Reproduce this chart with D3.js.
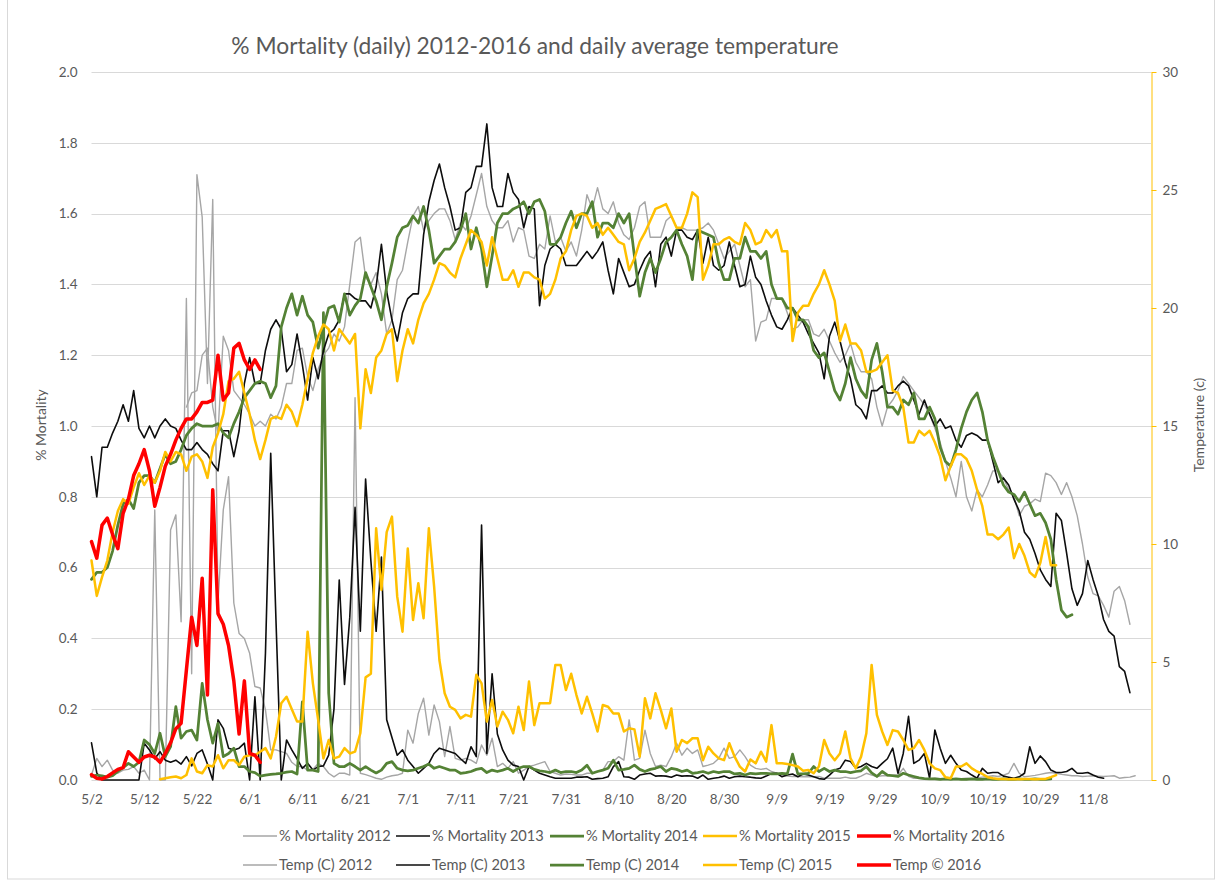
<!DOCTYPE html>
<html>
<head>
<meta charset="utf-8">
<script src="https://cdnjs.cloudflare.com/ajax/libs/d3/7.8.5/d3.min.js"></script>
<style>
    body { margin: 0; background: #fff; }
    svg text { font-family: Lato, "Open Sans", sans-serif; fill: #595959; }
</style>
</head>
<body>
<div id="chart"></div>
<script>
/*global d3*/

//x axis: day offsets from 5/2 and their labels
var dayTicks = [0, 10, 20, 30, 40, 50, 60, 70, 80, 90, 100, 110, 120, 130, 140, 150, 160, 170, 180, 190];
var dayTickLabels = ["5/2", "5/12", "5/22", "6/1", "6/11", "6/21", "7/1", "7/11", "7/21", "7/31",
    "8/10", "8/20", "8/30", "9/9", "9/19", "9/29", "10/9", "10/19", "10/29", "11/8"];
var mortTicks = [0, 0.2, 0.4, 0.6, 0.8, 1.0, 1.2, 1.4, 1.6, 1.8, 2.0];
var tempTicks = [0, 5, 10, 15, 20, 25, 30];

//daily % mortality, first value is 5/2 unless a start day is given
var mort2012 = [0.014,0.061,0.038,0.056,0.028,0.019,0.028,0.03,0.038,0.019,
    0.028,0.0,0.763,0.0,0.0,0.706,0.749,0.447,1.36,0.3,
    1.71,1.59,1.12,1.64,0.5,0.763,0.857,0.5,0.414,0.40,
    0.358,0.264,0.26,0.198,0.085,0.085,0.08,0.075,0.05,0.038,
    0.038,0.028,0.03,0.047,0.038,0.019,0.009,0.019,0.019,0.014,
    1.08,0.019,0.015,0.01,0.005,0.002,0.008,0.012,0.014,0.019,
    0.141,0.104,0.188,0.231,0.127,0.212,0.165,0.066,0.151,0.061,
    0.056,0.061,0.056,0.047,0.099,0.07,0.118,0.038,0.047,0.033,
    0.052,0.019,0.028,0.038,0.042,0.047,0.052,0.024,0.019,0.014,
    0.017,0.016,0.014,0.014,0.019,0.019,0.024,0.028,0.052,0.052,
    0.066,0.056,0.17,0.056,0.061,0.141,0.075,0.038,0.042,0.038,
    0.066,0.104,0.07,0.09,0.075,0.085,0.038,0.042,0.047,0.061,
    0.09,0.061,0.066,0.085,0.066,0.042,0.033,0.03,0.033,0.024,
    0.019,0.014,0.011,0.01,0.01,0.009,0.01,0.009,0.01,0.005,
    0.005,0.005,0.005,0.008,0.005,0.005,0.011,0.019,0.014,0.01,
    0.012,0.012,0.014,0.014,0.033,0.01,0.005,0.005,0.004,0.003,
    0.005,0.004,0.003,0.004,0.003,0.004,0.005,0.004,0.006,0.008,
    0.01,0.012,0.01,0.014,0.019,0.047,0.019,0.009,0.011,0.013,
    0.016,0.019,0.021,0.019,0.016,0.014,0.012,0.012,0.01,0.011,
    0.012,0.011,0.01,0.011,0.012,0.005,0.007,0.008,0.012];

var mort2013 = [0.105,0.02,0,0,0,0,0,0,0,0,
    0.104,0.085,0.06,0.08,0.056,0.05,0.056,0.045,0.066,0.04,
    0.075,0.085,0.045,0,0.17,0.146,0.09,0.085,0.09,0.104,
    0,0.235,0,0.358,0.923,0.45,0,0.113,0.085,0.06,
    0.033,0.047,0.028,0.038,0.04,0.07,0.2,0.565,0.27,0.46,
    0.77,0.42,0.85,0.62,0.42,0.63,0.17,0.12,0.07,0.085,
    0.056,0.038,0.019,0.033,0.047,0.075,0.09,0.085,0.08,0.075,
    0.06,0.047,0.094,0.066,0.72,0.075,0.30,0.13,0.085,0.056,
    0.042,0.038,0,0.038,0.028,0.019,0.014,0.009,0.005,0.005,
    0.005,0.005,0.008,0.008,0.009,0.002,0.004,0.005,0.009,0.038,
    0.052,0.009,0.008,0.002,0.014,0.017,0.019,0.011,0.012,0.011,
    0.008,0.014,0.011,0.012,0.011,0.005,0.014,0.002,0.005,0.007,
    0.011,0.005,0.009,0.011,0.009,0.008,0.006,0.005,0.011,0.018,
    0.019,0.009,0.014,0.017,0.009,0.017,0.014,0.009,0.004,0.002,
    0.014,0.028,0.033,0.056,0.052,0.033,0.038,0.047,0.038,0.033,
    0.047,0.06,0.09,0.019,0.075,0.18,0.047,0.056,0.075,0.005,
    0.141,0.09,0.047,0.07,0.047,0.028,0.024,0.014,0.005,0.033,
    0.019,0.021,0.021,0.011,0.008,0.005,0.009,0.019,0.094,0.047,
    0.068,0.052,0.028,0.021,0.021,0.024,0.033,0.019,0.019,0.021,
    0.014,0.008,0.005];

var mort2014 = [0.01,0.014,0.012,0.008,0.012,0.024,0.035,0.047,0.038,0.05,
    0.113,0.10,0.075,0.132,0.066,0.094,0.207,0.118,0.137,0.141,
    0.113,0.273,0.17,0.104,0.16,0.066,0.075,0.09,0.038,0.038,
    0.024,0.021,0.011,0.014,0.016,0.017,0.019,0.022,0.024,0.017,
    0.221,0.028,0.028,0.024,1.32,0.245,0.047,0.038,0.038,0.047,
    0.038,0.028,0.038,0.028,0.02,0.028,0.047,0.052,0.033,0.028,
    0.026,0.028,0.033,0.038,0.045,0.033,0.038,0.033,0.028,0.028,
    0.019,0.021,0.024,0.03,0.033,0.021,0.028,0.024,0.028,0.033,
    0.024,0.033,0.038,0.038,0.03,0.026,0.024,0.021,0.028,0.021,
    0.024,0.024,0.021,0.028,0.042,0.019,0.024,0.028,0.033,0.056,
    0.028,0.03,0.033,0.042,0.03,0.024,0.03,0.033,0.038,0.024,
    0.033,0.03,0.024,0.028,0.019,0.021,0.024,0.019,0.024,0.021,
    0.024,0.024,0.017,0.019,0.014,0.019,0.017,0.019,0.019,0.017,
    0.017,0.019,0.017,0.073,0.017,0.017,0.019,0.038,0.024,0.033,
    0.024,0.028,0.024,0.024,0.021,0.024,0.026,0.038,0.02,0.01,
    0.024,0.014,0.012,0.01,0.019,0.014,0.01,0.006,0.004,0.003,
    0.003,0.002,0.003,0.002,0.003,0.002,0.002,0.003,0.002,0.002,
    0.003,0.002,0.002,0.003,0.002,0.002,0.003,0.002,0.002,0.003,
    0.002,0.002,0.003];

//2015 mortality starts on 5/15
var mort2015Start = 13;
var mort2015 = [0.002,0.005,0.008,0.01,0.005,0.014,0.061,
    0.024,0.019,0.042,0.038,0.07,0.033,0.056,0.056,0.042,0.066,
    0.07,0.07,0.08,0.09,0.061,0.122,0.217,0.235,0.20,0.165,
    0.165,0.419,0.273,0.17,0.061,0.113,0.061,0.066,0.09,0.075,
    0.08,0.132,0.29,0.30,0.711,0.537,0.70,0.744,0.518,0.419,
    0.654,0.452,0.556,0.457,0.711,0.546,0.339,0.245,0.207,0.198,
    0.174,0.184,0.179,0.297,0.273,0.165,0.226,0.151,0.193,0.17,
    0.132,0.207,0.141,0.278,0.155,0.217,0.217,0.217,0.325,0.325,
    0.254,0.30,0.24,0.188,0.235,0.188,0.137,0.212,0.207,0.188,
    0.188,0.137,0.146,0.143,0.066,0.231,0.174,0.245,0.198,0.146,
    0.202,0.08,0.113,0.104,0.118,0.118,0.056,0.094,0.075,0.061,
    0.056,0.104,0.066,0.038,0.024,0.058,0.047,0.08,0.052,0.155,
    0.047,0.047,0.045,0.042,0.038,0.026,0.028,0.019,0.038,0.113,
    0.075,0.056,0.075,0.137,0.061,0.033,0.066,0.132,0.325,0.184,
    0.137,0.099,0.141,0.137,0.113,0.085,0.09,0.113,0.085,0.047,
    0.033,0.028,0.008,0.005,0.038,0.038,0.047,0.033,0.024,0.017,
    0.008,0.005,0.003,0.003,0.002,0.003,0.002,0.003,0.003,0.002,
    0.003,0.003,0.008,0.014];

var mort2016 = [0.015,0.005,0.003,0.01,0.02,0.03,0.035,0.08,0.065,0.05,
    0.065,0.07,0.065,0.05,0.075,0.105,0.145,0.16,0.31,0.46,
    0.38,0.57,0.24,0.82,0.47,0.44,0.38,0.28,0.13,0.28,
    0.075,0.07,0.05];

//daily average temperature (C)
//2012 temperature starts on 5/20
var temp2012Start = 18;
var temp2012 = [15.8,16.4,
    16.5,18.0,18.3,15.8,14.7,18.8,18.2,16.5,16.2,15.9,
    15.5,15.0,15.2,15.0,15.5,15.3,15.8,16.8,16.8,18.2,
    18.3,17.1,16.5,17.4,18.0,18.3,18.9,18.6,19.2,21.0,
    22.8,23.0,21.3,21.0,21.5,20.6,18.9,19.5,21.2,21.6,
    22.8,23.9,24.3,23.3,23.7,24.0,24.2,24.2,23.7,22.9,
    23.6,23.3,23.9,24.8,25.7,24.3,23.7,23.4,23.4,23.7,
    22.8,23.4,23.3,22.2,22.1,22.7,22.5,23.9,22.8,23.0,
    22.4,22.8,22.2,23.3,24.8,24.2,25.1,24.2,24.0,24.5,
    23.6,23.1,22.9,23.4,24.3,24.5,23.0,23.0,23.0,23.7,
    23.9,23.4,23.4,23.3,23.3,23.3,23.4,23.6,23.3,22.7,
    22.1,22.4,22.7,21.8,20.9,21.2,18.6,19.4,19.5,20.4,
    20.4,20.4,19.8,19.1,19.2,19.5,19.5,18.9,18.8,19.1,
    18.6,18.1,17.7,18.0,18.5,17.7,17.3,17.3,17.0,15.8,
    15.0,15.8,16.1,16.5,17.1,16.8,16.5,16.2,15.9,15.5,
    14.9,14.3,13.5,12.8,12.0,13.5,12.0,11.4,12.3,12.0,
    12.5,13.1,13.1,12.8,12.3,12.0,11.2,11.6,11.7,11.9,
    11.8,13.0,12.9,12.6,12.1,12.6,12.0,11.2,10.0,8.6,
    7.9,7.8,7.4,6.9,8.0,8.2,7.6,6.6];

var temp2013 = [13.7,12.0,14.1,14.1,14.7,15.2,15.9,15.2,16.5,14.9,
    14.5,15.0,14.5,15.0,15.3,15.0,14.9,14.4,14.0,14.0,
    14.3,14.0,13.8,13.4,13.1,14.8,14.8,13.7,14.8,16.8,
    17.9,16.8,16.8,18.2,19.1,19.5,19.1,17.3,17.6,18.9,
    17.6,16.1,17.9,17.0,18.2,18.9,19.1,19.5,20.6,20.6,
    20.4,20.3,20.3,20.0,20.9,22.7,20.7,19.5,18.6,19.8,
    20.4,20.6,20.6,23.1,24.5,25.4,26.1,25.1,24.3,23.3,
    23.4,24.9,25.1,26.0,26.0,27.8,25.1,24.3,24.3,25.7,
    24.9,24.6,23.4,24.3,24.2,20.1,21.8,22.5,22.7,22.5,
    21.8,21.8,21.8,22.1,22.4,22.1,22.4,22.8,21.6,20.6,
    22.1,21.5,20.9,21.0,21.6,22.1,22.4,20.9,22.7,23.0,
    22.2,23.3,23.3,23.0,22.9,23.3,21.9,23.0,21.8,21.6,
    21.8,22.8,21.8,20.9,21.0,22.2,21.3,21.0,20.3,19.7,
    19.2,19.1,19.5,20.0,19.7,19.4,18.9,18.5,18.1,17.0,
    18.8,19.4,18.6,17.7,17.0,15.9,15.7,15.3,16.5,16.5,
    16.7,16.4,16.4,16.7,16.9,16.7,16.1,15.5,16.1,15.5,
    15.0,15.3,14.9,15.0,14.4,14.1,14.6,14.7,14.6,14.4,
    14.4,13.5,12.6,12.8,12.5,11.9,11.4,10.5,10.2,9.6,
    8.9,8.5,8.2,11.3,11.0,9.6,8.1,7.4,7.9,9.3,
    8.5,7.8,6.8,6.3,6.1,4.8,4.6,3.7];

var temp2014 = [8.5,8.8,8.8,9.0,9.7,10.8,11.7,11.9,11.5,12.6,
    12.9,12.9,12.6,13.2,13.8,13.4,13.5,14.0,14.6,14.9,
    15.1,15.0,15.0,15.0,15.1,14.7,14.5,15.1,15.6,16.2,
    16.5,16.8,16.9,16.8,16.2,16.7,19.2,20.0,20.6,19.7,
    20.5,19.7,19.4,18.3,19.2,20.0,20.1,19.4,20.6,19.7,
    20.1,20.4,21.5,20.9,20.3,19.5,20.9,21.9,23.0,23.4,
    23.5,23.9,23.6,24.3,23.3,21.9,22.2,22.5,22.5,22.8,
    23.3,24.0,22.5,23.4,22.5,20.9,22.2,23.6,24.0,24.0,
    24.2,24.3,24.5,24.0,24.5,24.6,24.1,22.7,22.7,23.0,
    23.6,24.1,23.4,24.0,24.0,24.5,23.0,23.6,23.6,23.4,
    24.0,23.6,24.0,22.2,20.5,21.5,22.1,21.5,22.1,22.8,
    23.0,23.3,22.7,22.2,21.2,23.3,23.2,23.1,23.0,21.9,
    21.2,21.2,22.1,22.1,23.0,22.4,22.4,22.1,22.4,21.0,
    20.4,20.4,20.0,20.0,19.5,19.5,19.2,18.2,17.9,18.1,
    17.3,16.5,16.1,16.8,17.9,17.0,16.5,16.2,17.8,18.5,
    17.3,15.8,15.8,15.5,16.1,15.9,16.4,15.3,15.3,15.8,
    15.3,14.1,13.5,13.3,14.0,14.9,15.6,16.1,16.4,15.6,
    14.4,13.7,13.1,12.5,12.2,12.1,11.8,12.2,11.7,11.2,
    11.3,10.9,10.2,8.5,7.2,6.9,7.0];

var temp2015 = [9.3,7.8,8.6,9.3,10.5,11.4,11.9,11.7,12.4,13.0,
    12.5,12.9,12.6,13.1,13.9,13.5,13.9,13.8,13.1,13.7,
    13.8,13.5,12.8,14.1,14.7,15.5,16.9,17.0,17.3,16.4,
    15.5,14.4,13.6,14.4,15.3,15.4,15.3,15.9,15.6,15.0,
    15.9,17.0,18.1,18.8,19.3,19.1,18.2,19.1,18.8,18.5,
    18.9,14.9,17.4,16.4,17.9,18.2,18.9,19.1,16.9,18.2,
    19.1,18.5,19.5,20.2,20.6,21.2,21.9,21.8,21.5,21.3,
    22.1,22.7,23.3,23.1,22.8,21.8,23.0,22.1,21.2,21.2,
    21.6,20.9,21.5,21.5,21.3,21.2,20.4,20.6,21.2,22.1,
    22.4,23.3,23.9,24.0,23.9,23.4,23.6,23.1,23.4,23.1,
    22.8,22.7,21.6,22.1,22.8,23.2,23.7,24.2,24.3,24.4,
    23.9,23.4,23.4,24.0,24.9,24.7,21.2,21.8,22.7,22.7,
    22.9,23.0,22.8,22.7,23.6,23.3,22.7,22.8,23.3,23.0,
    23.3,22.4,22.4,18.6,19.8,20.1,20.1,20.6,21.0,21.6,
    21.0,20.3,18.6,19.3,18.5,18.5,18.2,17.3,17.3,17.4,
    17.7,18.0,16.5,16.4,15.8,14.3,14.3,14.8,14.6,14.8,
    14.3,13.7,12.7,13.3,13.8,13.8,13.6,13.1,12.3,11.6,
    10.4,10.4,10.2,10.4,10.7,9.4,10.0,9.5,8.8,8.6,
    9.2,10.3,9.1,9.1];

var temp2016 = [10.1,9.4,10.8,11.1,10.4,9.8,11.3,11.9,12.9,13.4,
    14.0,13.1,11.6,12.4,13.3,13.8,14.4,14.9,15.3,15.3,
    15.6,16.0,16.0,16.1,18.0,16.1,16.4,18.3,18.5,17.8,
    17.4,17.8,17.4];

//series styles, in Excel draw order (mortality first, temperature on the secondary axis)
var series = [
    {name: "% Mortality 2012", values: mort2012, start: 0, axis: "mort", color: "#a6a6a6", width: 1.4},
    {name: "% Mortality 2013", values: mort2013, start: 0, axis: "mort", color: "#0d0d0d", width: 1.6},
    {name: "% Mortality 2014", values: mort2014, start: 0, axis: "mort", color: "#548235", width: 2.75},
    {name: "% Mortality 2015", values: mort2015, start: mort2015Start, axis: "mort", color: "#ffc000", width: 2.5},
    {name: "% Mortality 2016", values: mort2016, start: 0, axis: "mort", color: "#ff0000", width: 3.5},
    {name: "Temp (C) 2012", values: temp2012, start: temp2012Start, axis: "temp", color: "#a6a6a6", width: 1.4},
    {name: "Temp (C) 2013", values: temp2013, start: 0, axis: "temp", color: "#0d0d0d", width: 1.6},
    {name: "Temp (C) 2014", values: temp2014, start: 0, axis: "temp", color: "#548235", width: 2.75},
    {name: "Temp (C) 2015", values: temp2015, start: 0, axis: "temp", color: "#ffc000", width: 2.5},
    {name: "Temp \u00a9 2016", values: temp2016, start: 0, axis: "temp", color: "#ff0000", width: 3.5}
];

//plot area inside the SVG
var plot = {left: 91.5, right: 1151, top: 72, bottom: 780};

var svg = d3.select("#chart")
    .append("svg")
        .attr("width", 1221)
        .attr("height", 881);

//chart border
svg.append("rect")
    .attr("x", 7.5)
    .attr("y", -1)
    .attr("width", 1207)
    .attr("height", 880)
    .attr("fill", "none")
    .attr("stroke", "#d9d9d9");

//scales
var x = d3.scaleLinear().domain([0, 201]).range([plot.left, plot.right]);
var yMort = d3.scaleLinear().domain([0, 2]).range([plot.bottom, plot.top]);
var yTemp = d3.scaleLinear().domain([0, 30]).range([plot.bottom, plot.top]);

//horizontal gridlines
svg.append("g")
    .attr("class", "grid")
    .selectAll("line")
    .data(mortTicks)
    .enter().append("line")
        .attr("x1", plot.left)
        .attr("x2", plot.right)
        .attr("y1", function(d) { return Math.round(yMort(d)) + 0.5; })
        .attr("y2", function(d) { return Math.round(yMort(d)) + 0.5; })
        .attr("stroke", "#d9d9d9")
        .attr("stroke-width", 1);

//left axis, labels only
var leftAxis = svg.append("g")
    .attr("transform", "translate(" + plot.left + ",0)")
    .call(d3.axisLeft(yMort).tickValues(mortTicks).tickFormat(d3.format(".1f")).tickSize(0).tickPadding(14));
leftAxis.select(".domain").remove();
leftAxis.selectAll("text").style("font-size", "13.5px");

//bottom axis, labels only (the 0 gridline is the axis line)
var bottomAxis = svg.append("g")
    .attr("transform", "translate(0," + plot.bottom + ")")
    .call(d3.axisBottom(x).tickValues(dayTicks)
        .tickFormat(function(d, i) { return dayTickLabels[i]; })
        .tickSize(0).tickPadding(14));
bottomAxis.select(".domain").remove();
bottomAxis.selectAll("text").style("font-size", "13.5px");

//right axis in gold
var rightAxis = svg.append("g")
    .attr("transform", "translate(" + (plot.right + 0.5) + ",0)")
    .call(d3.axisRight(yTemp).tickValues(tempTicks).tickSize(5).tickSizeOuter(0).tickPadding(6));
rightAxis.select(".domain").attr("stroke", "#ffc000");
rightAxis.selectAll(".tick line").attr("stroke", "#ffc000");
rightAxis.selectAll("text").style("font-size", "13.5px");

//axis titles
svg.append("text")
    .attr("transform", "translate(46,425) rotate(-90)")
    .attr("text-anchor", "middle")
    .style("font-size", "14px")
    .text("% Mortality");

svg.append("text")
    .attr("transform", "translate(1204,425) rotate(-90)")
    .attr("text-anchor", "middle")
    .style("font-size", "14px")
    .text("Temperature (c)");

//chart title
svg.append("text")
    .attr("x", 535)
    .attr("y", 54)
    .attr("text-anchor", "middle")
    .style("font-size", "22.8px")
    .text("% Mortality (daily) 2012-2016 and daily average temperature");

//line generator per axis
var lineFor = function(s) {
    var yScale = s.axis === "mort" ? yMort : yTemp;
    return d3.line()
        .x(function(v, i) { return x(s.start + i); })
        .y(function(v) { return yScale(v); });
};

svg.append("g")
    .attr("class", "series")
    .selectAll("path")
    .data(series)
    .enter().append("path")
        .attr("d", function(s) { return lineFor(s)(s.values); })
        .attr("fill", "none")
        .attr("stroke", function(s) { return s.color; })
        .attr("stroke-width", function(s) { return s.width; })
        .attr("stroke-linejoin", "round")
        .attr("stroke-linecap", "round");

//legend: two rows of five
var legendCols = [243, 396, 550, 703, 857];
var legendRows = [836, 865];

var legend = svg.append("g")
    .attr("class", "legend")
    .selectAll("g")
    .data(series)
    .enter().append("g")
        .attr("transform", function(s, i) {
            return "translate(" + legendCols[i % 5] + "," + legendRows[Math.floor(i / 5)] + ")";
        });

legend.append("line")
    .attr("x1", 0)
    .attr("x2", 34)
    .attr("stroke", function(s) { return s.color; })
    .attr("stroke-width", function(s) { return s.width; });

legend.append("text")
    .attr("x", 36)
    .attr("dy", "0.35em")
    .style("font-size", "14.6px")
    .text(function(s) { return s.name; });
</script>
</body>
</html>
